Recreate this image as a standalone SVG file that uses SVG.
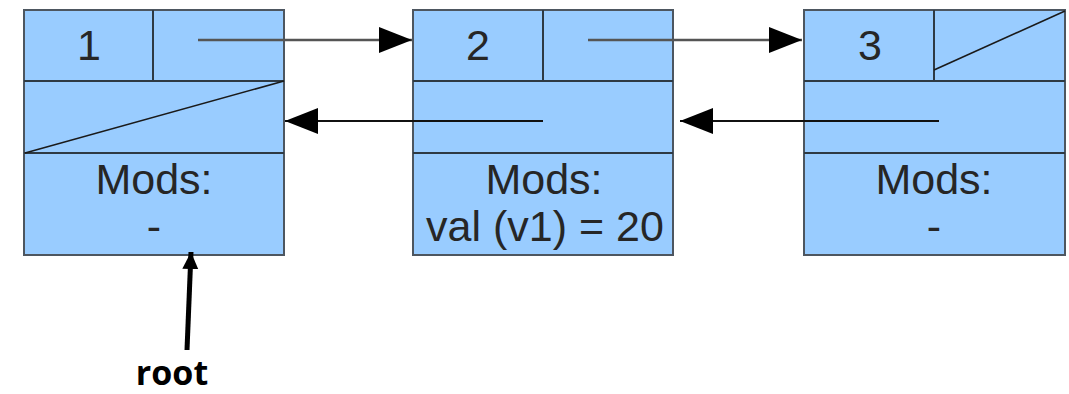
<svg xmlns="http://www.w3.org/2000/svg" width="1069" height="394" viewBox="0 0 1069 394">
<style>
.box{fill:#99ccff;stroke:#4d5660;stroke-width:2}
.div{stroke:#2e3a44;stroke-width:2;fill:none}
.slash{stroke:#1a1a1a;stroke-width:1.6;fill:none}
.t{font-family:"Liberation Sans",Arial,sans-serif;font-size:43px;fill:#262626;text-anchor:middle}
.ptr{stroke:#555;stroke-width:2.5;fill:none}
.ptr2{stroke:#111;stroke-width:2;fill:none}
.root{font-family:"Open Sans","Liberation Sans",sans-serif;font-weight:bold;font-size:34px;fill:#000;text-anchor:middle}
</style>
<defs>
<marker id="ah" markerUnits="userSpaceOnUse" markerWidth="33" markerHeight="26" refX="33" refY="13" orient="auto">
<path d="M0,0 L33,13 L0,26 Z" fill="#000"/>
</marker>
<marker id="ahr" markerUnits="userSpaceOnUse" markerWidth="18" markerHeight="18" refX="17" refY="8" orient="auto">
<path d="M0,0 L17,8 L0,16 Z" fill="#000"/>
</marker>
</defs>
<g id="node1">
<rect class="box" x="24" y="10" width="260" height="245"/>
<line class="div" x1="153" y1="10" x2="153" y2="81"/>
<line class="div" x1="24" y1="81" x2="284" y2="81"/>
<line class="div" x1="24" y1="153" x2="284" y2="153"/>
<path class="slash" d="M25,153 L284,81"/>
<text class="t" x="89" y="60">1</text>
<text class="t" x="154" y="194">Mods:</text>
<text class="t" x="154" y="241">-</text>
</g>
<g id="node2">
<rect class="box" x="413" y="10" width="260" height="245"/>
<line class="div" x1="543" y1="10" x2="543" y2="81"/>
<line class="div" x1="413" y1="81" x2="673" y2="81"/>
<line class="div" x1="413" y1="153" x2="673" y2="153"/>
<text class="t" x="478" y="60">2</text>
<text class="t" x="544" y="194">Mods:</text>
<text class="t" x="545" y="241">val (v1) = 20</text>
</g>
<g id="node3">
<rect class="box" x="804" y="10" width="261" height="245"/>
<line class="div" x1="934" y1="10" x2="934" y2="81"/>
<line class="div" x1="804" y1="81" x2="1065" y2="81"/>
<line class="div" x1="804" y1="153" x2="1065" y2="153"/>
<path class="slash" d="M934,70 L1065,11"/>
<text class="t" x="870" y="60">3</text>
<text class="t" x="934" y="194">Mods:</text>
<text class="t" x="934" y="241">-</text>
</g>
<g id="connectors">
<line class="ptr" x1="198" y1="40" x2="412" y2="40" marker-end="url(#ah)"/>
<line class="ptr" x1="588" y1="40" x2="802" y2="40" marker-end="url(#ah)"/>
<line class="ptr2" x1="543" y1="121" x2="285" y2="121" marker-end="url(#ah)"/>
<line class="ptr2" x1="939" y1="121" x2="680" y2="121" marker-end="url(#ah)"/>
<line x1="187" y1="350" x2="191" y2="252" stroke="#000" stroke-width="5" marker-end="url(#ahr)"/>
</g>
<g id="root">
<text class="root" x="172" y="385">root</text>
</g>
</svg>
